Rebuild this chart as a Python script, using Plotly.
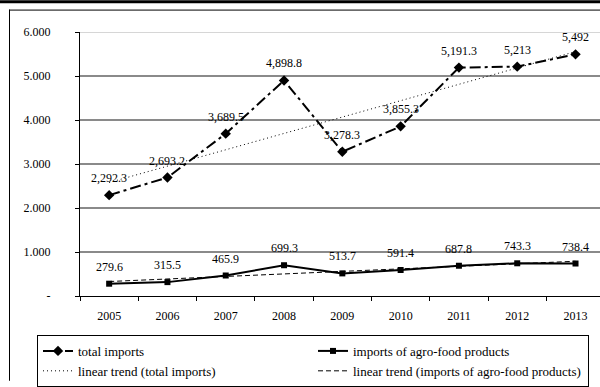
import numpy as np
import plotly.graph_objects as go

years = ["2005", "2006", "2007", "2008", "2009", "2010", "2011", "2012", "2013"]
total_imports = [2292.3, 2693.2, 3689.5, 4898.8, 3278.3, 3855.3, 5191.3, 5213, 5492]
agro_imports = [279.6, 315.5, 465.9, 699.3, 513.7, 591.4, 687.8, 743.3, 738.4]
y_tickvals = [0, 1000, 2000, 3000, 4000, 5000, 6000]
y_ticktext = ["-", "1.000", "2.000", "3.000", "4.000", "5.000", "6.000"]

FONT = "Liberation Serif, Times New Roman, serif"

def trend(vals):
    idx = np.arange(1, len(vals) + 1)
    k, b = np.polyfit(idx, vals, 1)
    return list(k * idx + b)

fig = go.Figure()
fig.add_trace(go.Scatter(
    x=years, y=total_imports, name="total imports", mode="lines+markers",
    line=dict(color="black", width=2, dash="11px,4px,3px,4px"),
    marker=dict(symbol="diamond", size=8, color="black"),
))
fig.add_trace(go.Scatter(
    x=years, y=agro_imports, name="imports of agro-food products", mode="lines+markers",
    line=dict(color="black", width=2),
    marker=dict(symbol="square", size=6, color="black"),
))
fig.add_trace(go.Scatter(
    x=years, y=trend(total_imports), name="linear trend (total imports)", mode="lines",
    line=dict(color="black", width=1, dash="1px,3px"),
))
fig.add_trace(go.Scatter(
    x=years, y=trend(agro_imports), name="linear trend (imports of agro-food products)", mode="lines",
    line=dict(color="black", width=1, dash="5px,3px"),
))

for series in (total_imports, agro_imports):
    for i, v in enumerate(series):
        fig.add_annotation(
            x=i, y=v, xref="x", yref="y", text=format(v, ",.6g"), showarrow=False, yshift=17,
            font=dict(family=FONT, size=12, color="black"),
        )

W, H = 600, 387
L, R, T, B = 80, 0, 32, 84
pw, ph = W - L - R, H - T - B

def px_x(p):
    return (p - L) / pw

def px_y(p):
    return (H - B - p) / ph

fig.add_shape(type="line", xref="paper", yref="y", x0=0, x1=1, y0=6000, y1=6000,
              line=dict(color="#c8c8c8", width=1.5))
fig.add_shape(type="line", xref="paper", yref="paper", x0=px_x(9), x1=px_x(602),
              y0=px_y(9.5), y1=px_y(9.5), line=dict(color="black", width=1))
fig.add_shape(type="line", xref="paper", yref="paper", x0=px_x(9.5), x1=px_x(9.5),
              y0=px_y(9), y1=px_y(390), line=dict(color="black", width=1))
fig.add_shape(type="line", xref="paper", yref="paper", x0=px_x(-2), x1=px_x(602),
              y0=px_y(1), y1=px_y(1), line=dict(color="black", width=3))

fig.update_layout(
    width=W, height=H,
    margin=dict(l=L, r=R, t=T, b=B),
    paper_bgcolor="white", plot_bgcolor="white",
    font=dict(family=FONT, size=12, color="black"),
    showlegend=True,
    legend=dict(
        orientation="h", x=px_x(37), y=px_y(343), xanchor="left", yanchor="top",
        xref="paper", yref="paper",
        bgcolor="white", bordercolor="black", borderwidth=1,
        font=dict(family=FONT, size=13, color="black"),
        entrywidth=230, itemwidth=30, traceorder="normal",
    ),
    xaxis=dict(
        type="category", range=[-0.5, 8.42], tickson="boundaries",
        ticks="outside", ticklen=4, tickcolor="black",
        showline=True, linecolor="black", linewidth=1,
        showgrid=False, zeroline=False,
        tickfont=dict(family=FONT, size=12), ticklabelstandoff=9,
    ),
    yaxis=dict(
        range=[0, 6000], tickvals=y_tickvals, ticktext=y_ticktext,
        ticks="outside", ticklen=4, tickcolor="black",
        showline=True, linecolor="black", linewidth=1,
        showgrid=True, gridcolor="#8a8a8a", gridwidth=1.5, zeroline=False,
        tickfont=dict(family=FONT, size=12), ticklabelstandoff=22,
    ),
)

fig.write_html(
    "out.html",
    config={"displayModeBar": False},
    post_script="document.body.style.margin='0';document.body.style.overflow='hidden';",
)
